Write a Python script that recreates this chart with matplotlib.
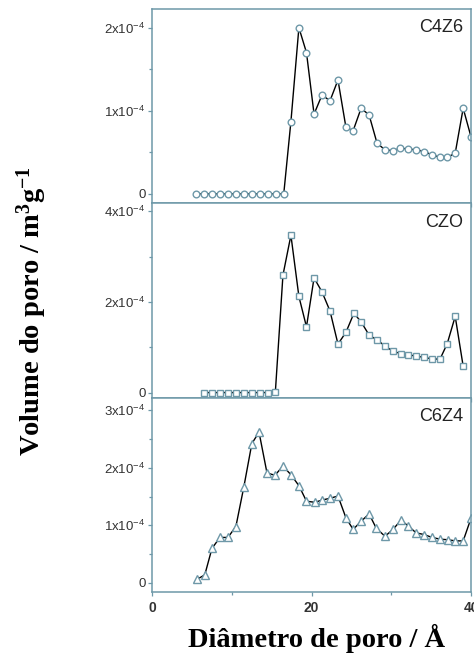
import matplotlib
matplotlib.use("Agg")
import matplotlib.pyplot as plt
from matplotlib.ticker import FixedLocator, MultipleLocator

plt.rcParams['font.family'] = ['Liberation Sans', 'DejaVu Sans']
plt.rcParams['mathtext.default'] = 'regular'

# pore size distribution, volume in units of 1e-4 m3/g
x_c4z6 = [5.5, 6.5, 7.5, 8.5, 9.5, 10.5, 11.5, 12.5, 13.5, 14.5, 15.5, 16.5,
          17.4, 18.4, 19.35, 20.3, 21.3, 22.3, 23.3, 24.3, 25.2, 26.2, 27.2,
          28.2, 29.2, 30.2, 31.1, 32.1, 33.1, 34.1, 35.1, 36.1, 37.0, 38.0,
          39.0, 40.0]
v_c4z6 = [0, 0, 0, 0, 0, 0, 0, 0, 0, 0, 0, 0,
          0.87, 2.0, 1.70, 0.96, 1.19, 1.12, 1.37, 0.80, 0.76, 1.03, 0.95,
          0.61, 0.53, 0.52, 0.55, 0.54, 0.53, 0.51, 0.47, 0.44, 0.44, 0.49,
          1.03, 0.68]

x_czo = [6.5, 7.5, 8.5, 9.5, 10.5, 11.5, 12.5, 13.5, 14.5, 15.45,
         16.4, 17.4, 18.4, 19.35, 20.3, 21.3, 22.3, 23.3, 24.3, 25.3, 26.2,
         27.2, 28.2, 29.2, 30.2, 31.2, 32.1, 33.1, 34.1, 35.1, 36.1, 37.0,
         38.0, 39.0]
v_czo = [0, 0, 0, 0, 0, 0, 0, 0, 0, 0.02,
         2.59, 3.47, 2.12, 1.45, 2.53, 2.22, 1.80, 1.07, 1.33, 1.75, 1.56,
         1.27, 1.16, 1.03, 0.91, 0.86, 0.84, 0.80, 0.78, 0.74, 0.74, 1.08,
         1.68, 0.58]

x_c6z4 = [5.6, 6.6, 7.5, 8.5, 9.5, 10.5, 11.5, 12.5, 13.4, 14.4, 15.4,
          16.4, 17.4, 18.4, 19.35, 20.4, 21.3, 22.3, 23.3, 24.3, 25.2, 26.2,
          27.2, 28.1, 29.2, 30.2, 31.2, 32.1, 33.1, 34.1, 35.1, 36.1, 37.1,
          38.0, 39.0, 40.0]
v_c6z4 = [0.06, 0.14, 0.60, 0.79, 0.79, 0.98, 1.67, 2.42, 2.62, 1.91, 1.87,
          2.03, 1.88, 1.69, 1.42, 1.40, 1.44, 1.47, 1.51, 1.13, 0.93, 1.07,
          1.20, 0.95, 0.81, 0.93, 1.09, 0.99, 0.87, 0.84, 0.79, 0.76, 0.75,
          0.73, 0.73, 1.13]

names = ['C4Z6', 'CZO', 'C6Z4']
markers = ['o', 's', '^']
y_major = [[0, 1, 2], [0, 2, 4], [0, 1, 2, 3]]
y_minor = [[0.5, 1.5], [1, 3], [0.5, 1.5, 2.5]]
y_lims = [(-0.11, 2.23), (-0.11, 4.18), (-0.16, 3.22)]

edge = '#6e98a8'
fig = plt.figure(figsize=(4.74, 6.55), dpi=100)
gs = fig.add_gridspec(3, 1, left=0.321, right=0.994, top=0.987, bottom=0.096, hspace=0)
axes = [fig.add_subplot(gs[i]) for i in range(3)]

series = [(x_c4z6, v_c4z6), (x_czo, v_czo), (x_c6z4, v_c6z4)]
for i, ax in enumerate(axes):
    xs, vs = series[i]
    ax.plot(xs, vs, color='black', lw=1.0, marker=markers[i], ms=4.8 if i != 2 else 5.4,
            mfc='white', mec=edge, mew=1.0)
    ax.set_xlim(0, 40)
    ax.set_ylim(*y_lims[i])
    ax.yaxis.set_major_locator(FixedLocator(y_major[i]))
    ax.yaxis.set_minor_locator(FixedLocator(y_minor[i]))
    ax.set_yticklabels(['0' if v == 0 else '%dx10$^{-4}$' % v for v in y_major[i]])
    ax.xaxis.set_major_locator(MultipleLocator(20))
    ax.xaxis.set_minor_locator(MultipleLocator(10))
    for s in ax.spines.values():
        s.set_color(edge)
        s.set_linewidth(1.1)
    ax.tick_params(which='both', direction='out', color=edge, width=0.9,
                   labelsize=9.5, labelcolor='#333333', pad=1.5)
    ax.tick_params(which='major', length=3.2)
    ax.tick_params(which='minor', length=2.2)
    ax.text(0.975, 0.945, names[i], transform=ax.transAxes, ha='right', va='top',
            fontsize=13, color='#222222')
    if i < 2:
        ax.tick_params(axis='x', labelbottom=False)

axes[2].tick_params(axis='x', labelsize=10, pad=3)
for lab in axes[2].get_xticklabels():
    lab.set_fontweight('bold')

fig.text(0.066, 0.525, 'Volume do poro / m$^{3}$g$^{-1}$', rotation=90, ha='center', va='center',
         fontsize=20.5, fontweight='bold', family=['Liberation Serif', 'DejaVu Serif'])
fig.text(0.667, 0.026, 'Diâmetro de poro / Å', ha='center', va='center',
         fontsize=20.5, fontweight='bold', family=['Liberation Serif', 'DejaVu Serif'])

fig.savefig('out.png', dpi=100)
